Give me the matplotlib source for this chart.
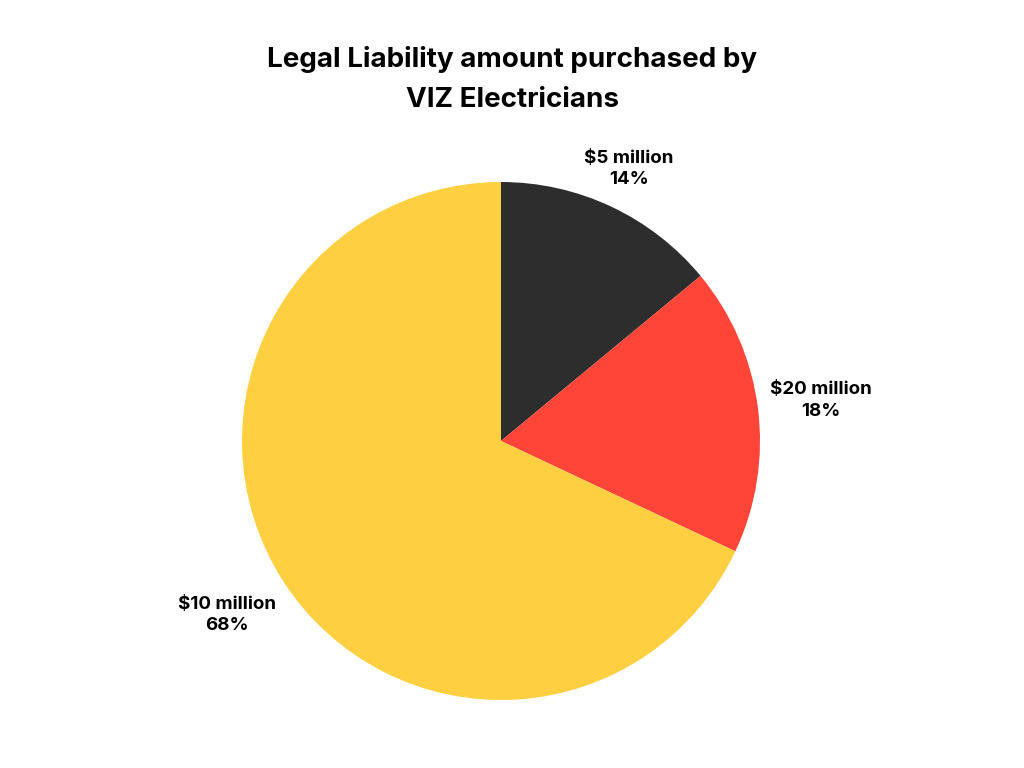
import numpy as np
import matplotlib
matplotlib.use('Agg')
import matplotlib.pyplot as plt

labels = ['$5 million', '$20 million', '$10 million']
shares = [14, 18, 68]
colors = ['#2d2d2d', '#ff4438', '#fecf40']
label_dist = [1.16, 1.245, 1.255]

plt.rcParams['font.family'] = ['Inter', 'DejaVu Sans']

fig = plt.figure(figsize=(10.24, 7.68), dpi=100)
ax = fig.add_axes([242/1024, 68/768, 518/1024, 518/768])
wedges, _ = ax.pie(shares, colors=colors, startangle=90, counterclock=False,
                   radius=1.0, wedgeprops=dict(linewidth=0))
ax.set_xlim(-1, 1)
ax.set_ylim(-1, 1)
ax.set_aspect('equal')

# labels outside each slice
for w, lab, pct, d in zip(wedges, labels, shares, label_dist):
    ang = np.deg2rad((w.theta1 + w.theta2) / 2)
    ax.text(d*np.cos(ang), d*np.sin(ang), f'{lab}\n{pct}%', ha='center', va='center',
            fontsize=13.5, fontweight='bold', linespacing=1.35)

fig.text(0.5, 0.897, 'Legal Liability amount purchased by\nVIZ Electricians', ha='center', va='center',
         fontsize=20, fontweight='bold', linespacing=1.7)

fig.savefig('out.png', dpi=100)
